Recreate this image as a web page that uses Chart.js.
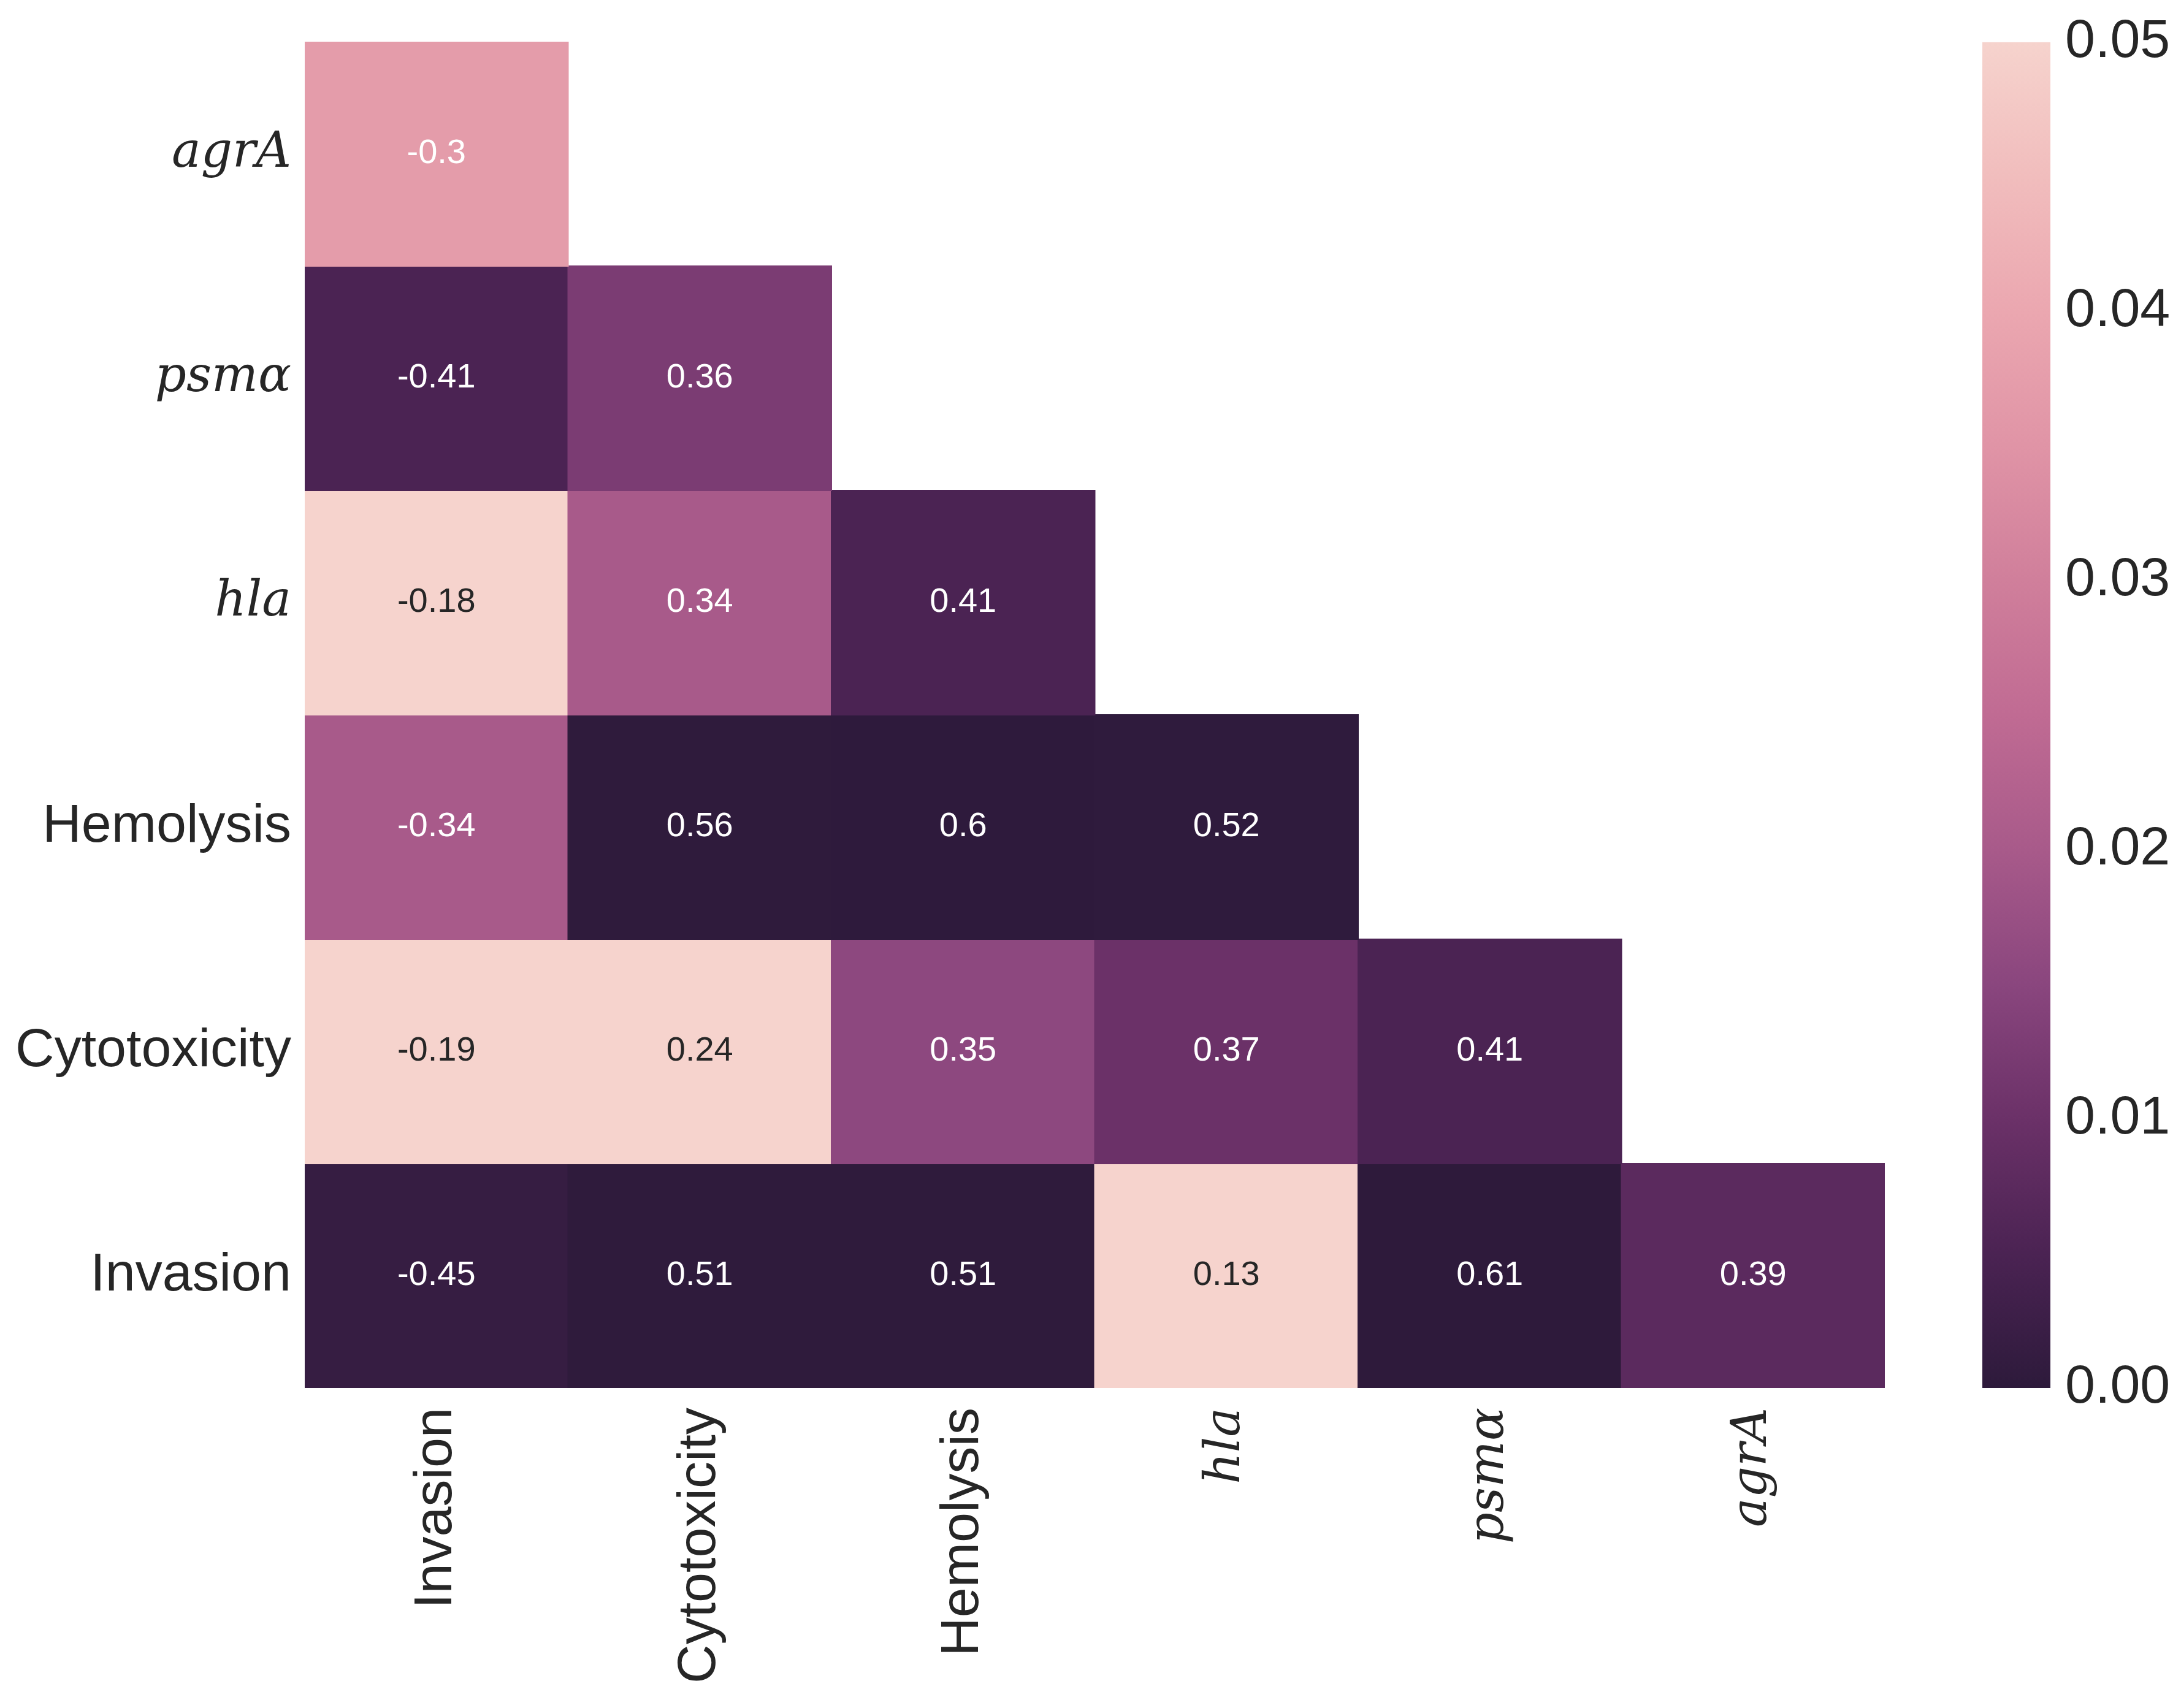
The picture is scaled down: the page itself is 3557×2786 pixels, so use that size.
<!DOCTYPE html>
<html>
<head>
<meta charset="utf-8">
<script src="https://cdn.jsdelivr.net/npm/chart.js@4.4.1/dist/chart.umd.min.js"></script>
<style>
  html, body { margin: 0; padding: 0; background: #ffffff; }
  #wrap { position: relative; width: 3557px; height: 2786px; background: #ffffff; }
  #main { position: absolute; left: 0; top: 0; }
  #cbar { position: absolute; left: 3160px; top: 0; }
</style>
</head>
<body>
<div id="wrap">
  <canvas id="main" width="3160" height="2786"></canvas>
  <canvas id="cbar" width="397" height="2786"></canvas>
</div>
<script>
// ---------------- data ----------------
const rowLabels = ['agrA', 'psmα', 'hla', 'Hemolysis', 'Cytotoxicity', 'Invasion'];
const colLabels = ['Invasion', 'Cytotoxicity', 'Hemolysis', 'hla', 'psmα', 'agrA'];
const italicLabels = ['agrA', 'psmα', 'hla'];

// correlation coefficients shown in cells (null = masked)
const corrAgrA      = [-0.30, null, null, null, null, null];
const corrPsma      = [-0.41, 0.36, null, null, null, null];
const corrHla       = [-0.18, 0.34, 0.41, null, null, null];
const corrHemolysis = [-0.34, 0.56, 0.60, 0.52, null, null];
const corrCytotox   = [-0.19, 0.24, 0.35, 0.37, 0.41, null];
const corrInvasion  = [-0.45, 0.51, 0.51, 0.13, 0.61, 0.39];

// p-values (colour), clipped at 0.05
const pAgrA      = [0.037, null, null, null, null, null];
const pPsma      = [0.005, 0.0125, null, null, null, null];
const pHla       = [0.05, 0.020, 0.005, null, null, null];
const pHemolysis = [0.020, 0.0003, 0.0002, 0.0004, null, null];
const pCytotox   = [0.05, 0.05, 0.0155, 0.010, 0.005, null];
const pInvasion  = [0.0015, 0.0003, 0.0003, 0.05, 0.0001, 0.0075];

const corrRows = [corrAgrA, corrPsma, corrHla, corrHemolysis, corrCytotox, corrInvasion];
const pRows    = [pAgrA, pPsma, pHla, pHemolysis, pCytotox, pInvasion];

const cbarMin = 0.0, cbarMax = 0.05;
const cbarTicks = [0.00, 0.01, 0.02, 0.03, 0.04, 0.05];

// colormap stops (fraction of range -> colour)
const cmapStops = [
  [0.0, '#2d1a3b'], [0.1, '#4b2353'], [0.2, '#6b3168'], [0.3, '#8a467e'],
  [0.4, '#a85a8a'], [0.5, '#c06b93'], [0.6, '#d07f9b'], [0.7, '#e094a6'],
  [0.8, '#eba7b0'], [0.9, '#f1bdbd'], [1.0, '#f6d3cd']
];

// ---------------- helpers ----------------
function hexToRgb(h) { return [parseInt(h.substr(1,2),16), parseInt(h.substr(3,2),16), parseInt(h.substr(5,2),16)]; }
function cmap(v) {
  let t = (v - cbarMin) / (cbarMax - cbarMin);
  t = Math.max(0, Math.min(1, t));
  for (let i = 1; i < cmapStops.length; i++) {
    if (t <= cmapStops[i][0]) {
      const [t0, c0] = cmapStops[i-1], [t1, c1] = cmapStops[i];
      const f = (t - t0) / (t1 - t0);
      const a = hexToRgb(c0), b = hexToRgb(c1);
      return 'rgb(' + a.map((x, k) => Math.round(x + (b[k] - x) * f)).join(',') + ')';
    }
  }
  return cmapStops[cmapStops.length-1][1];
}
function lum(rgbStr) {
  const m = rgbStr.match(/\d+/g).map(Number);
  const lin = m.map(c => { c /= 255; return c <= 0.03928 ? c/12.92 : Math.pow((c+0.055)/1.055, 2.4); });
  return 0.2126*lin[0] + 0.7152*lin[1] + 0.0722*lin[2];
}
const SANS = '"Liberation Sans", Arial, sans-serif';
const SERIF = '"DejaVu Serif", serif';
function labelFont(lbl) {
  return italicLabels.includes(lbl)
    ? { family: SERIF, style: 'italic', size: 80 }
    : { family: SANS, size: 88 };
}

// ---------------- datasets ----------------
const datasets = rowLabels.map((r, ri) => ({
  label: r,
  data: pRows[ri].map(p => p === null ? null : [ri - 0.5, ri + 0.5]),
  backgroundColor: pRows[ri].map(p => p === null ? 'rgba(0,0,0,0)' : cmap(p)),
  borderWidth: 0,
  inflateAmount: 1,
  categoryPercentage: 1.0,
  barPercentage: 1.0,
  grouped: false
}));

const annotPlugin = {
  id: 'annot',
  afterDatasetsDraw(chart) {
    const c = chart.ctx;
    c.save();
    c.font = '56px ' + SANS;
    c.textAlign = 'center';
    c.textBaseline = 'middle';
    chart.data.datasets.forEach((ds, ri) => {
      const meta = chart.getDatasetMeta(ri);
      meta.data.forEach((el, ci) => {
        const v = corrRows[ri][ci];
        if (v === null || v === undefined) return;
        const bg = cmap(pRows[ri][ci]);
        c.fillStyle = lum(bg) > 0.45 ? '#262626' : '#ffffff';
        const x = el.x;
        const y = (el.y + el.base) / 2;
        c.fillText(String(v), x, y);
      });
    });
    c.restore();
  }
};

new Chart(document.getElementById('main'), {
  type: 'bar',
  data: { labels: colLabels, datasets },
  options: {
    responsive: false,
    devicePixelRatio: 1,
    animation: false,
    events: [],
    layout: { padding: { top: 68, right: 86, left: 0, bottom: 0 } },
    plugins: { legend: { display: false }, tooltip: { enabled: false } },
    scales: {
      x: {
        type: 'category',
        offset: true,
        grid: { display: false },
        border: { display: false },
        ticks: {
          autoSkip: false, minRotation: 90, maxRotation: 90, padding: 24,
          color: '#262626',
          font: (ctx) => labelFont(colLabels[ctx.index])
        },
        afterFit: (s) => { s.height = 522; }
      },
      y: {
        type: 'linear',
        min: -0.5, max: 5.5, reverse: true,
        grid: { display: false },
        border: { display: false },
        afterBuildTicks: (s) => { s.ticks = rowLabels.map((_, i) => ({ value: i })); },
        ticks: {
          autoSkip: false, padding: 14, color: '#262626',
          callback: (v) => rowLabels[v],
          font: (ctx) => labelFont(rowLabels[ctx.index])
        },
        afterFit: (s) => { s.width = 497; }
      }
    }
  },
  plugins: [annotPlugin]
});

// ---------------- colour bar ----------------
new Chart(document.getElementById('cbar'), {
  type: 'bar',
  data: {
    labels: ['p'],
    datasets: [{
      data: [[cbarMin, cbarMax]],
      borderWidth: 0,
      categoryPercentage: 1.0, barPercentage: 1.0,
      backgroundColor: (ctx) => {
        const chart = ctx.chart;
        if (!chart.chartArea) return '#888';
        const y = chart.scales.y;
        const g = chart.ctx.createLinearGradient(0, y.getPixelForValue(cbarMin), 0, y.getPixelForValue(cbarMax));
        cmapStops.forEach(([t, col]) => g.addColorStop(t, col));
        return g;
      }
    }]
  },
  options: {
    responsive: false,
    devicePixelRatio: 1,
    animation: false,
    events: [],
    layout: { padding: { top: 68, bottom: 522, left: 73, right: 0 } },
    plugins: { legend: { display: false }, tooltip: { enabled: false } },
    scales: {
      x: { display: false, offset: true },
      y: {
        position: 'right',
        min: cbarMin, max: cbarMax,
        grid: { display: false },
        border: { display: false },
        afterBuildTicks: (s) => { s.ticks = cbarTicks.map(v => ({ value: v })); },
        ticks: {
          padding: 16, color: '#262626',
          font: { family: SANS, size: 88 },
          callback: (v) => Number(v).toFixed(2)
        },
        afterFit: (s) => { s.width = 213; }
      }
    }
  }
});
</script>
</body>
</html>
